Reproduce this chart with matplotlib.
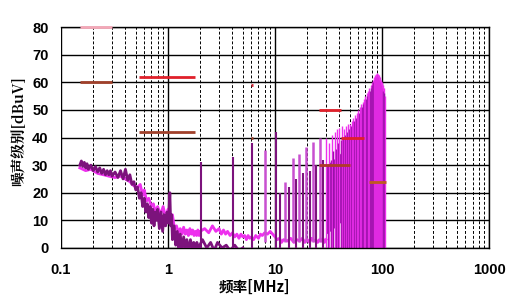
import matplotlib.pyplot as plt
import numpy as np

plt.rcParams['font.family'] = ['Liberation Sans', 'Noto Sans CJK SC', 'DejaVu Sans']

# 暗紫色曲线 低频段 (MHz, dBuV)
dark_f = [0.15, 0.155, 0.16, 0.165, 0.17, 0.175, 0.18, 0.19, 0.20, 0.21, 0.22, 0.23, 0.24, 0.25,
          0.26, 0.27, 0.28, 0.29, 0.30, 0.32, 0.34, 0.36, 0.38, 0.40, 0.42, 0.44, 0.46, 0.48,
          0.50, 0.52, 0.54, 0.56, 0.58, 0.60, 0.62, 0.64, 0.66, 0.68, 0.70, 0.72, 0.74, 0.76,
          0.78, 0.80, 0.83, 0.86, 0.89, 0.92, 0.95, 0.98, 1.01, 1.04, 1.06, 1.08, 1.10, 1.14,
          1.18, 1.22, 1.26, 1.30, 1.35, 1.40, 1.45, 1.50, 1.56, 1.62, 1.68, 1.74, 1.80, 1.86,
          1.92, 1.98, 2.1, 2.3, 2.5, 2.7, 2.9, 3.2, 3.5, 3.8, 4.2, 4.6, 5.0]
dark_db = [30, 31.5, 29.5, 31, 29, 30.5, 28.5, 30, 28, 29.5, 27.5, 29, 27, 28.5,
           26.5, 28, 26.5, 28, 26, 27.5, 25.5, 28, 25, 28.5, 24.5, 26.5, 23, 24,
           21, 22, 18, 20, 15, 18, 13, 16, 11, 15, 9, 14, 8, 13,
           10, 14, 7, 13, 6, 12, 8, 13, 9, 20, 8, 12, 3, 8,
           1, 6, 0, 5, -1, 4, 0, 3, -1, 3, 0, 2, -1, 2,
           0, 1, 3, 0, 2, -1, 2, 0, 1, -1, 1, -1, 0]

# 品红色曲线 (MHz, dBuV)
mag_f = [0.15, 0.17, 0.19, 0.22, 0.25, 0.28, 0.32, 0.36, 0.40, 0.44, 0.48, 0.52, 0.55, 0.58,
         0.60, 0.63, 0.66, 0.70, 0.73, 0.76, 0.80, 0.85, 0.90, 0.95, 1.00, 1.05, 1.10, 1.15,
         1.20, 1.25, 1.30, 1.35, 1.40, 1.45, 1.50, 1.55, 1.60, 1.65, 1.70, 1.75, 1.80, 1.85,
         1.90, 1.95, 2.0, 2.2, 2.4, 2.6, 2.8, 3.0, 3.15, 3.3, 3.45, 3.6, 3.8, 4.0, 4.2,
         4.4, 4.6, 4.8, 5.0, 5.2, 5.4, 5.6, 5.8, 6.0, 6.3, 6.6, 7.0, 7.3, 7.6, 8.0, 8.5,
         9.0, 9.5, 10, 10.5, 11, 11.5, 12, 13, 14, 15, 16, 17, 18, 19, 20, 21, 22,
         23, 24, 25, 26, 27, 28, 29, 30]
mag_db = [29, 28, 28.5, 27, 26.5, 26, 25.5, 26, 25, 24, 22.5, 22, 23, 19,
          21, 17, 18, 15, 16, 13, 15, 12, 15, 11, 14, 10, 12, 7,
          8, 5.5, 7, 5, 7.5, 5, 6.5, 4.5, 7, 5, 6.5, 4.5, 6, 4.5,
          6.5, 4.5, 6, 7, 5.5, 8, 6, 7, 5, 6.5, 5, 6, 4.5, 5.5, 4,
          5, 3.5, 5, 4, 4.5, 3, 4.5, 3.5, 4, 3, 4.5, 3.5, 5, 4.5, 5.5, 5,
          6, 5, 4, 3, 3.5, 2, 3, 2.5, 3.5, 2, 3, 2.5, 3.5, 2, 3, 2, 3.5,
          2.5, 3, 2, 3, 2.5, 3.5, 2, 3]

# 离散尖峰 (MHz, 峰值 dBuV)
dark_spike_f = [2.05, 4.05, 6.1, 10.3, 11.2, 13.5, 15.6, 18.1, 21.0, 24.2, 28.2]
dark_spike_db = [31, 33, 38, 42, 20, 22, 25, 27, 28, 30, 32]
mag_spike_f = [8.1, 12.4, 14.6, 16.8, 19.6, 22.7, 26.5]
mag_spike_db = [35.5, 24, 32.6, 34, 36.6, 38.5, 40]

# 30-106 MHz 密集区
dense_f = list(range(30, 107))
dense_top = [40, 30, 38, 32, 41, 35, 42, 36, 43, 38, 43.5, 39, 44, 40, 43, 41, 44, 42, 45, 43,
             45, 44, 46, 45, 47, 46, 48, 47, 49, 48, 50, 49, 51, 50, 52, 51, 53, 52, 54, 53,
             55, 54, 56, 55, 57, 56, 58, 57, 59, 58, 60, 59, 61, 60, 62, 61, 62.5, 62, 63, 62,
             63.5, 62.5, 63, 62, 62.5, 61, 62, 60, 61, 59, 60, 58, 59, 57, 58, 56, 55]
band_f = [30, 35, 40, 45, 50, 55, 60, 65, 70, 75, 80, 85, 90, 95, 100, 104, 106]
band_low = [5, 7, 9, 10, 12, 14, 16, 19, 22, 25, 28, 30.5, 32, 31.5, 30, 28, 26]
band_high = [30, 32, 34, 36, 38, 40, 43, 46, 49, 53, 56, 59, 61, 60, 58, 56, 54]

# 限值线 (起始 MHz, 结束 MHz, dBuV)
limit_start = [0.15, 0.15, 0.53, 0.53, 5.9, 5.9, 26, 41, 26, 76]
limit_end = [0.30, 0.30, 1.8, 1.8, 6.2, 6.2, 41, 68, 50, 108]
limit_level = [80, 60, 62, 42, 59, 40, 50, 40, 30, 24]
limit_color = ['#f4a8b8', '#a0402a', '#e0202a', '#a0402a', '#d02030', '#a0402a',
               '#e0202a', '#e0202a', '#b03a2a', '#c05a20']

dark = '#7c137c'
mag = '#ee30ee'

fig, ax = plt.subplots(figsize=(5.17, 3.08), dpi=100)
fig.subplots_adjust(left=0.118, right=0.946, top=0.912, bottom=0.195)

ax.fill_between(band_f, band_low, band_high, color='#a014b0', lw=0, zorder=2)
for i, f in enumerate(dense_f):
    ax.vlines(f, 0, dense_top[i], color=mag if i % 2 == 0 else '#9a10a8', lw=1.0, zorder=2)

ax.plot(mag_f, mag_db, color=mag, lw=2.0, zorder=3)
ax.plot(dark_f, dark_db, color=dark, lw=2.0, zorder=4)
ax.vlines(mag_spike_f, 2, mag_spike_db, color='#c850d0', lw=1.8, zorder=3)
ax.vlines(dark_spike_f, 0, dark_spike_db, color=dark, lw=1.5, zorder=4)

for s, e, lv, c in zip(limit_start, limit_end, limit_level, limit_color):
    ax.plot([s, e], [lv, lv], color=c, lw=2, solid_capstyle='butt', zorder=5, clip_on=False)

ax.set_xscale('log')
ax.set_xlim(0.1, 1000)
ax.set_ylim(0, 80)
ax.set_yticks(range(0, 81, 10))
ax.set_xticks([0.1, 1, 10, 100, 1000])
ax.set_xticklabels(['0.1', '1', '10', '100', '1000'])
ax.grid(which='major', color='black', lw=1.0, ls='-')
ax.grid(which='minor', axis='x', color='black', lw=0.7, ls=(0, (3, 2)))
ax.set_axisbelow(True)
ax.tick_params(which='both', length=0)
ax.tick_params(axis='y', pad=9, labelsize=10.5)
ax.tick_params(axis='x', pad=11, labelsize=10.5)
for lab in ax.get_xticklabels() + ax.get_yticklabels():
    lab.set_fontweight('bold')
for sp in ax.spines.values():
    sp.set_color('black')
    sp.set_linewidth(1.0)
ax.spines['left'].set_visible(False)

ax.set_xlabel('频率[MHz]', family=['Noto Sans CJK SC', 'DejaVu Sans'], fontweight='bold',
              fontsize=10.5)
ax.xaxis.set_label_coords(0.451, -0.14)
ax.set_ylabel('噪声级别[dBuV]', family=['Noto Serif CJK SC', 'Noto Sans CJK SC', 'DejaVu Serif'],
              fontweight='bold', fontsize=10.5)
ax.yaxis.set_label_coords(-0.08, 0.53)

plt.savefig('out.png', dpi=100)
